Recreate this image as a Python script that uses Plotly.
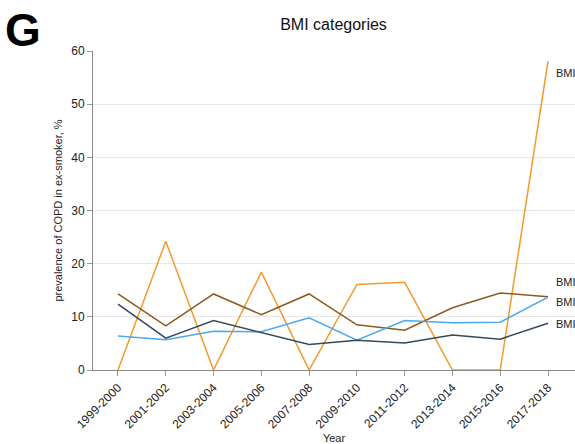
import plotly.graph_objects as go

years = ["1999-2000", "2001-2002", "2003-2004", "2005-2006", "2007-2008",
         "2009-2010", "2011-2012", "2013-2014", "2015-2016", "2017-2018"]

bmi_under = [0.0, 24.2, 0.0, 18.4, 0.0, 16.1, 16.5, 0.0, 0.0, 58.1]
bmi_over = [14.3, 8.3, 14.3, 10.4, 14.3, 8.5, 7.5, 11.7, 14.5, 13.8]
bmi_normal = [6.4, 5.7, 7.3, 7.2, 9.8, 5.6, 9.3, 8.9, 9.0, 13.7]
bmi_obese = [12.4, 6.0, 9.3, 7.0, 4.8, 5.6, 5.1, 6.6, 5.8, 8.8]

series = [
    ("BMI<18.5", bmi_under, "#f29a2e"),
    ("BMI 25-29.9", bmi_over, "#8c5a1e"),
    ("BMI 18.5-24.9", bmi_normal, "#4aa8ee"),
    ("BMI≥30", bmi_obese, "#35495a"),
]
# vertical label positions (data units) keep the end labels from overlapping
label_y = [55.8, 16.6, 12.7, 8.6]

xs = list(range(len(years)))
fig = go.Figure()
for (name, vals, color), ly in zip(series, label_y):
    fig.add_trace(go.Scatter(x=xs, y=vals, mode="lines", name=name,
                             line=dict(color=color, width=1.5),
                             cliponaxis=False, showlegend=False))
    fig.add_annotation(x=xs[-1], y=ly, text=name, showarrow=False,
                       xanchor="left", xshift=6, yanchor="middle",
                       font=dict(size=11, color="#222"))

fig.add_annotation(text="<b>G</b>", xref="paper", yref="paper", x=-0.186, y=1.065,
                   xanchor="left", yanchor="middle", showarrow=False,
                   font=dict(size=46, color="#000", family="Liberation Sans, Arial"))

fig.update_layout(
    width=575, height=444,
    margin=dict(l=93, r=0, t=51, b=74),
    plot_bgcolor="white", paper_bgcolor="white",
    font=dict(family="Liberation Sans, Arial, sans-serif", color="#222", size=11),
    title=dict(text="BMI categories", x=0.58, xanchor="center", y=0.944,
               yanchor="middle", font=dict(size=16, color="#111")),
)
fig.update_xaxes(
    range=[-0.523, 9.565], tickmode="array", tickvals=xs, ticktext=years,
    tickangle=-45, ticks="outside", ticklen=5, tickcolor="#999",
    showline=True, linecolor="#888", linewidth=1, showgrid=False, zeroline=False,
    title=dict(text="Year", font=dict(size=11), standoff=4),
    tickfont=dict(size=12, color="#222"),
)
fig.update_yaxes(
    range=[0, 60], tickvals=[0, 10, 20, 30, 40, 50, 60],
    ticks="outside", ticklen=5, tickcolor="#999",
    showline=True, linecolor="#888", linewidth=1,
    showgrid=True, gridcolor="#e6e6e6", zeroline=False,
    title=dict(text="prevalence of COPD in ex-smoker, %", font=dict(size=11), standoff=6),
    tickfont=dict(size=12, color="#222"),
)

fig.write_html("out.html")
